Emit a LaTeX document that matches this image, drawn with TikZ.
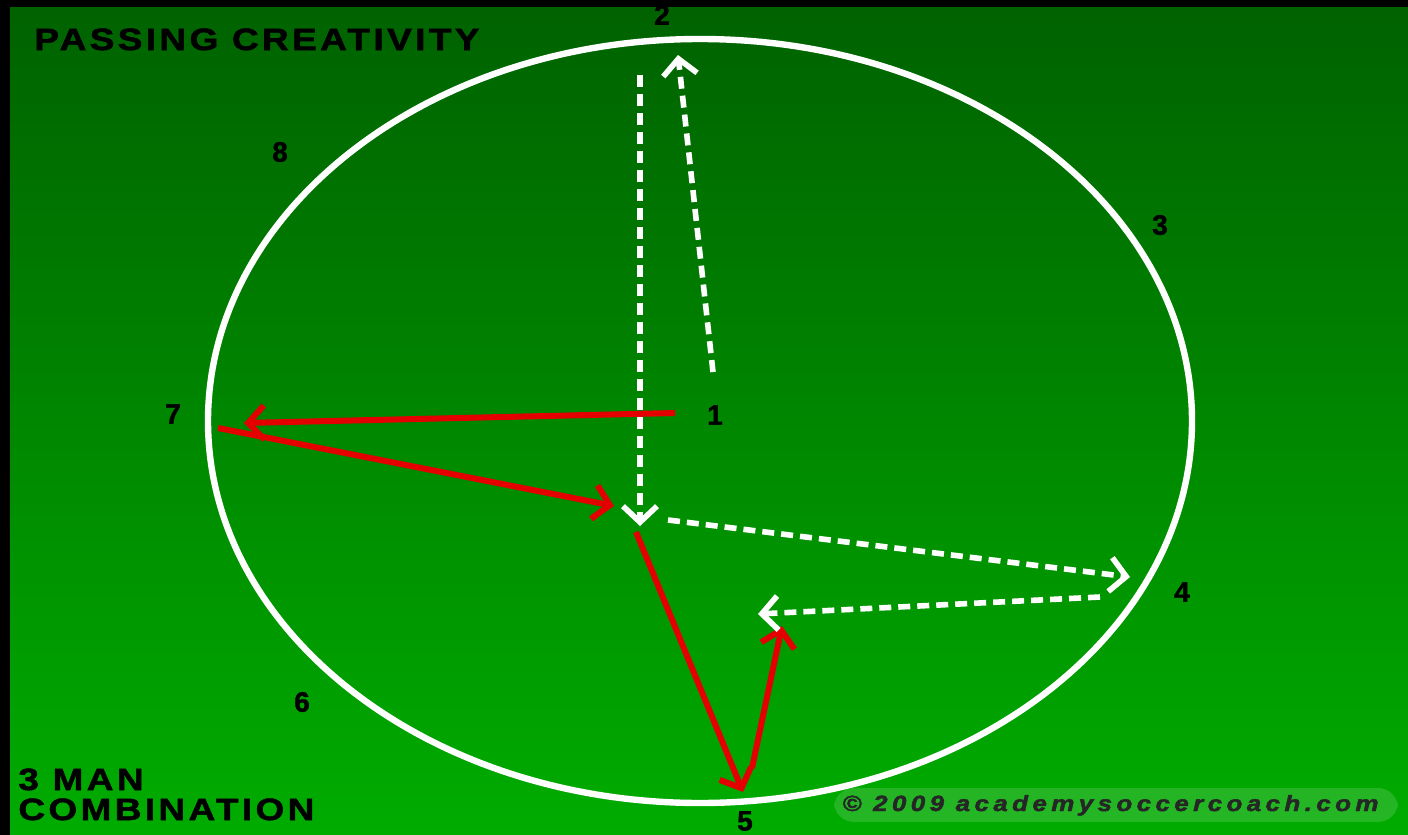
\documentclass[tikz,border=0pt]{standalone}
\usepackage{fontspec}
\setmainfont{Liberation Sans}
\newfontfamily\headfont[LetterSpace=11,FakeStretch=1.2,FakeBold=1.8]{Liberation Sans Bold}
\newfontfamily\numfont[FakeBold=1.4]{Liberation Sans Bold}
\newfontfamily\creditfont[LetterSpace=20,FakeStretch=1.18,FakeBold=2]{Liberation Sans Bold Italic}
\usetikzlibrary{arrows.meta}
\definecolor{fieldtop}{RGB}{0,98,0}
\definecolor{fieldbot}{RGB}{0,172,0}
\definecolor{passred}{RGB}{228,0,0}
\definecolor{glow}{RGB}{200,240,200}

\begin{document}
\begin{tikzpicture}[x=0.5pt,y=-0.5pt,>={Straight Barb[length=8pt,width=17pt]}]
  \tikzstyle{num}=[font=\fontsize{14}{14}\numfont,inner sep=0pt]
  \tikzstyle{heading}=[font=\fontsize{15.4}{15}\headfont,inner sep=0pt,align=left]
  \tikzstyle{credit}=[font=\fontsize{11}{11}\creditfont,inner sep=0pt,anchor=base west]
  \tikzstyle{ball}=[white,line width=2.8pt,dash pattern=on 6pt off 3.5pt,->]
  \tikzstyle{run}=[passred,line width=3pt,->]
  \useasboundingbox (0,0) rectangle (1408,835);
  % field
  \fill[black] (0,0) rectangle (1408,835);
  \shade[top color=fieldtop,bottom color=fieldbot] (10,7) rectangle (1408,835);
  \draw[white,line width=3.2pt] (700,421) ellipse [x radius=492,y radius=382];
  % player positions
  \node[num] (n1) at (715,415) {1};
  \node[num] (n2) at (662,15) {2};
  \node[num] (n3) at (1160,225) {3};
  \node[num] (n4) at (1182,592) {4};
  \node[num] (n5) at (745,821) {5};
  \node[num] (n6) at (302,702) {6};
  \node[num] (n7) at (173,414) {7};
  \node[num] (n8) at (280,152) {8};
  % ends of the passes and runs
  \coordinate (p1) at (713,372);
  \coordinate (p2) at (678,55);
  \coordinate (p3) at (640,75);
  \coordinate (p4) at (640,526);
  \coordinate (p5) at (668,520);
  \coordinate (p6) at (1130,577);
  \coordinate (p7) at (1100,597);
  \coordinate (p8) at (758,614);
  \coordinate (r1) at (675,413);
  \coordinate (r2) at (244,423);
  \coordinate (r3) at (218,428);
  \coordinate (r4) at (614,506);
  \coordinate (r5) at (636,532);
  \coordinate (r6) at (743,792);
  \coordinate (r7) at (752,768);
  \coordinate (r8) at (782,626);
  \draw[run] (r1) -- (r2);
  \draw[run] (r3) -- (r4);
  \draw[run] (r5) -- (r6);
  \draw[run] (r7) -- (r8);
  \draw[ball] (p1) -- (p2);
  \draw[ball] (p3) -- (p4);
  \draw[ball] (p5) -- (p6);
  \draw[ball] (p7) -- (p8);
  % texts
  \node[heading,anchor=base west] (ttl) at (34,50) {PASSING CREATIVITY};
  \node[heading,anchor=base west] (sub) at (18,820) {3 MAN\\[0pt]COMBINATION};
  \fill[glow,opacity=0.18,rounded corners=10pt] (834,788) rectangle (1398,822);
  \node[credit,text=black!85] (copy) at (842,811) {© 2009 academysoccercoach.com};
\end{tikzpicture}
\end{document}
